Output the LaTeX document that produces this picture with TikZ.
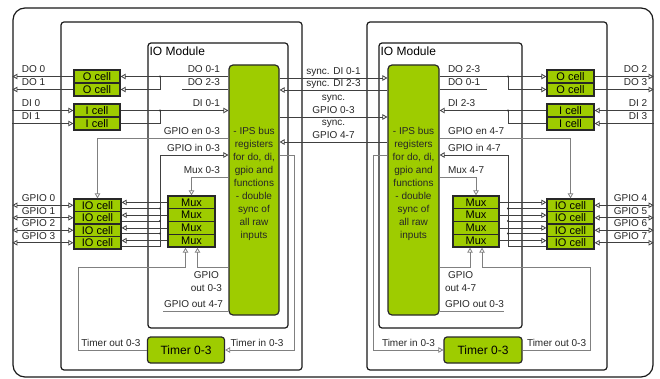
\documentclass[tikz,border=0pt]{standalone}
\usepackage{fontspec}
\setmainfont{Liberation Sans}
\usetikzlibrary{arrows.meta}

\definecolor{cellgreen}{RGB}{158,204,0}
\definecolor{edgedark}{RGB}{40,40,40}

\tikzset{
  ipstip/.tip={Triangle[open,length=5pt,width=5.5pt]},
  frame/.style={draw=black!90, line width=1.2pt, rounded corners=3pt, inner sep=0pt},
  cellbox/.style={draw=edgedark, fill=cellgreen, line width=1.3pt, inner sep=0pt,
    font=\fontsize{11}{12}\selectfont},
  ocell/.style={cellbox, minimum width=46pt, minimum height=13pt},
  iocell/.style={cellbox, minimum width=47pt, minimum height=12.5pt},
  muxbox/.style={cellbox, minimum width=47pt, minimum height=12.75pt},
  ipsbox/.style={draw=edgedark, fill=cellgreen, line width=1.2pt, rounded corners=4pt,
    minimum width=50pt, minimum height=250pt, inner sep=0pt},
  timerbox/.style={draw=edgedark, fill=cellgreen, line width=1.2pt, rounded corners=3pt,
    minimum height=26pt, inner sep=0pt, font=\fontsize{12}{14}\selectfont},
  lbl/.style={inner sep=0pt, text=black!85, font=\fontsize{10}{13}\selectfont},
  title/.style={inner sep=0pt, font=\fontsize{12}{14}\selectfont},
  sig/.style={draw=black!75, line width=0.8pt},
  ctl/.style={draw=black!50, line width=0.8pt},
  jdot/.style={fill=black!80},
}

\begin{document}
\begin{tikzpicture}[x=1pt, y=-1pt]
\useasboundingbox (0,0) rectangle (660,379);

% frames
\node[frame, rounded corners=12pt, minimum width=640pt, minimum height=369pt] (sys) at (333,192.5) {};
\node[frame, minimum width=241pt, minimum height=348pt] (modL) at (181.5,196) {};
\node[frame, minimum width=240pt, minimum height=348pt] (modR) at (487,196) {};
\node[frame, minimum width=140pt, minimum height=285pt] (iomL) at (218,185.5) {};
\node[frame, minimum width=143pt, minimum height=285pt] (iomR) at (450.5,185.5) {};
\node[title, anchor=base west] (iomLtitle) at ([xshift=2pt,yshift=-13pt]iomL.north west) {IO Module};
\node[title, anchor=base west] (iomRtitle) at ([xshift=2pt,yshift=-13pt]iomR.north west) {IO Module};

% bus registers
\node[ipsbox] (ipsL) at (254,190) {};
\node[ipsbox, minimum width=51pt] (ipsR) at (413.5,190) {};
\node[lbl, align=center] (ipsLtext) at (254,183.5) {- IPS bus\\registers\\for do, di,\\gpio and\\functions\\- double\\sync of\\all raw\\inputs};
\node[lbl, align=center] (ipsRtext) at (413.5,183.5) {- IPS bus\\registers\\for do, di,\\gpio and\\functions\\- double\\sync of\\all raw\\inputs};

% timers
\node[timerbox, minimum width=77pt] (tmL) at (186,350) {Timer 0-3};
\node[timerbox, minimum width=78pt] (tmR) at (483,350) {Timer 0-3};

% left cells
\node[ocell] (ocA) at (97,76.5) {O cell};
\node[ocell] (ocB) at (97,89.5) {O cell};
\node[ocell] (icA) at (97,110.5) {I cell};
\node[ocell] (icB) at (97,123.5) {I cell};
\node[iocell] (ioA) at (97.5,205.25) {IO cell};
\node[iocell] (ioB) at (97.5,217.75) {IO cell};
\node[iocell] (ioC) at (97.5,230.25) {IO cell};
\node[iocell] (ioD) at (97.5,242.75) {IO cell};
\node[muxbox] (mxA) at (191.5,202.4) {Mux};
\node[muxbox] (mxB) at (191.5,215.15) {Mux};
\node[muxbox] (mxC) at (191.5,227.9) {Mux};
\node[muxbox] (mxD) at (191.5,240.65) {Mux};

% right cells
\node[ocell, minimum width=47pt] (ocC) at (570.5,76.5) {O cell};
\node[ocell, minimum width=47pt] (ocD) at (570.5,89.5) {O cell};
\node[ocell, minimum width=47pt] (icC) at (570.5,110.5) {I cell};
\node[ocell, minimum width=47pt] (icD) at (570.5,123.5) {I cell};
\node[iocell] (ioE) at (570.5,205.25) {IO cell};
\node[iocell] (ioF) at (570.5,217.75) {IO cell};
\node[iocell] (ioG) at (570.5,230.25) {IO cell};
\node[iocell] (ioH) at (570.5,242.75) {IO cell};
\node[muxbox, minimum width=46pt] (mxE) at (476,202.4) {Mux};
\node[muxbox, minimum width=46pt] (mxF) at (476,215.15) {Mux};
\node[muxbox, minimum width=46pt] (mxG) at (476,227.9) {Mux};
\node[muxbox, minimum width=46pt] (mxH) at (476,240.65) {Mux};

% bend points and stub ends
\coordinate (busL) at (160,0);
\coordinate (busR) at (508,0);
\coordinate (doStubL) at (182,0);
\coordinate (doStubR) at (487,0);
\coordinate (tinL) at (294,0);
\coordinate (tinR) at (373,0);
\coordinate (toutL) at (78,267);
\coordinate (toutR) at (590,267);
\coordinate (gpoStubL) at (163,311);
\coordinate (gpoStubR) at (504,311);

% left pins
\draw[sig,-ipstip] (ocA.west) -- (ocA.west -| sys.west) node[lbl, anchor=base west, xshift=9pt, yshift=3.5pt] {DO 0};
\draw[sig,-ipstip] (ocB.west) -- (ocB.west -| sys.west) node[lbl, anchor=base west, xshift=9pt, yshift=3.5pt] {DO 1};
\draw[sig,-ipstip] (icA.west -| sys.west) node[lbl, anchor=base west, xshift=9pt, yshift=3.5pt] {DI 0} -- (icA.west);
\draw[sig,-ipstip] (icB.west -| sys.west) node[lbl, anchor=base west, xshift=9pt, yshift=3.5pt] {DI 1} -- (icB.west);
\draw[sig,ipstip-ipstip] (ioA.west -| sys.west) node[lbl, anchor=base west, xshift=9pt, yshift=3.5pt] {GPIO 0} -- (ioA.west);
\draw[sig,ipstip-ipstip] (ioB.west -| sys.west) node[lbl, anchor=base west, xshift=9pt, yshift=3.5pt] {GPIO 1} -- (ioB.west);
\draw[sig,ipstip-ipstip] (ioC.west -| sys.west) node[lbl, anchor=base west, xshift=9pt, yshift=3.5pt] {GPIO 2} -- (ioC.west);
\draw[sig,ipstip-ipstip] (ioD.west -| sys.west) node[lbl, anchor=base west, xshift=9pt, yshift=3.5pt] {GPIO 3} -- (ioD.west);

% right pins
\draw[sig,-ipstip] (ocC.east) -- (ocC.east -| sys.east) node[lbl, anchor=base east, xshift=-6pt, yshift=3.5pt] {DO 2};
\draw[sig,-ipstip] (ocD.east) -- (ocD.east -| sys.east) node[lbl, anchor=base east, xshift=-6pt, yshift=3.5pt] {DO 3};
\draw[sig,-ipstip] (icC.east -| sys.east) node[lbl, anchor=base east, xshift=-6pt, yshift=3.5pt] {DI 2} -- (icC.east);
\draw[sig,-ipstip] (icD.east -| sys.east) node[lbl, anchor=base east, xshift=-6pt, yshift=3.5pt] {DI 3} -- (icD.east);
\draw[sig,ipstip-ipstip] (ioE.east -| sys.east) node[lbl, anchor=base east, xshift=-6pt, yshift=3.5pt] {GPIO 4} -- (ioE.east);
\draw[sig,ipstip-ipstip] (ioF.east -| sys.east) node[lbl, anchor=base east, xshift=-6pt, yshift=3.5pt] {GPIO 5} -- (ioF.east);
\draw[sig,ipstip-ipstip] (ioG.east -| sys.east) node[lbl, anchor=base east, xshift=-6pt, yshift=3.5pt] {GPIO 6} -- (ioG.east);
\draw[sig,ipstip-ipstip] (ioH.east -| sys.east) node[lbl, anchor=base east, xshift=-6pt, yshift=3.5pt] {GPIO 7} -- (ioH.east);

% left module buses
\draw[sig,ipstip-] (ocA.east) -- (ocA.east -| ipsL.west) node[lbl, anchor=base east, xshift=-8pt, yshift=3.5pt] {DO 0-1};
\draw[sig,-ipstip] (busL |- ocA.east) |- (ocB.east);
\fill[jdot] (busL |- ocA.east) circle (1.1pt);
\draw[sig] (ocB.east -| ipsL.west) node[lbl, anchor=base east, xshift=-8pt, yshift=3.5pt] {DO 2-3} -- (ocB.east -| doStubL);
\draw[sig,-ipstip] (icA.east) -- (icA.east -| ipsL.west) node[lbl, anchor=base east, xshift=-8pt, yshift=3.5pt] {DI 0-1};
\draw[sig] (icB.east) -| (busL |- icA.east);
\fill[jdot] (busL |- icA.east) circle (1.1pt);
\draw[ctl,-ipstip] (ipsL.west |- 0,138) node[lbl, anchor=base east, xshift=-8pt, yshift=3.5pt] {GPIO en 0-3} -| (ioA.north);
\draw[sig,-ipstip] ([yshift=-3.25pt]ioD.east) -| (busL |- 0,155) -- (ipsL.west |- 0,155) node[lbl, anchor=base east, xshift=-8pt, yshift=3.5pt] {GPIO in 0-3};
\draw[sig] ([yshift=-3.25pt]ioA.east) -- ([yshift=-3.25pt]ioA.east -| busL);
\draw[sig] ([yshift=-3.25pt]ioB.east) -- ([yshift=-3.25pt]ioB.east -| busL);
\draw[sig] ([yshift=-3.25pt]ioC.east) -- ([yshift=-3.25pt]ioC.east -| busL);
\fill[jdot] ([yshift=-3.25pt]ioA.east -| busL) circle (1.1pt);
\fill[jdot] ([yshift=-3.25pt]ioB.east -| busL) circle (1.1pt);
\fill[jdot] ([yshift=-3.25pt]ioC.east -| busL) circle (1.1pt);
\draw[ctl,-ipstip] (ipsL.west |- 0,177) node[lbl, anchor=base east, xshift=-8pt, yshift=3.5pt] {Mux 0-3} -| (mxA.north);
\draw[sig,-ipstip] (mxA.west) -- (mxA.west -| ioA.east);
\draw[sig,-ipstip] (mxB.west) -- (mxB.west -| ioB.east);
\draw[sig,-ipstip] (mxC.west) -- (mxC.west -| ioC.east);
\draw[sig,-ipstip] (mxD.west) -- (mxD.west -| ioD.east);
\draw[ctl,-ipstip] (ipsL.west |- 0,267) node[lbl, align=center, anchor=north east, xshift=-6pt, yshift=-4pt] {GPIO\\out 0-3} -| ([xshift=6pt]mxD.south);
\draw[ctl] (gpoStubL -| ipsL.west) node[lbl, anchor=base east, xshift=-5pt, yshift=3.5pt] {GPIO out 4-7} -- (gpoStubL);
\draw[ctl,-ipstip] (tmL.west) node[lbl, anchor=base east, xshift=-6pt, yshift=3.5pt] {Timer out 0-3} -| (toutL) -| ([xshift=-6pt]mxD.south);
\draw[ctl,-ipstip] (ipsL.east |- 0,155) -| (tinL |- tmL.east) -- (tmL.east) node[lbl, anchor=base west, xshift=5pt, yshift=3.5pt] {Timer in 0-3};

% right module buses
\draw[sig,-ipstip] (ocC.west -| ipsR.east) node[lbl, anchor=base west, xshift=8pt, yshift=3.5pt] {DO 2-3} -- (ocC.west);
\draw[sig,-ipstip] (busR |- ocC.west) |- (ocD.west);
\fill[jdot] (busR |- ocC.west) circle (1.1pt);
\draw[sig] (ocD.west -| ipsR.east) node[lbl, anchor=base west, xshift=8pt, yshift=3.5pt] {DO 0-1} -- (ocD.west -| doStubR);
\draw[sig,-ipstip] (icC.west) -- (icC.west -| ipsR.east) node[lbl, anchor=base west, xshift=8pt, yshift=3.5pt] {DI 2-3};
\draw[sig] (icD.west) -| (busR |- icC.west);
\fill[jdot] (busR |- icC.west) circle (1.1pt);
\draw[ctl,-ipstip] (ipsR.east |- 0,138) node[lbl, anchor=base west, xshift=8pt, yshift=3.5pt] {GPIO en 4-7} -| (ioE.north);
\draw[sig,-ipstip] ([yshift=-3.25pt]ioH.west) -| (busR |- 0,155) -- (ipsR.east |- 0,155) node[lbl, anchor=base west, xshift=8pt, yshift=3.5pt] {GPIO in 4-7};
\draw[sig] ([yshift=-3.25pt]ioE.west) -- ([yshift=-3.25pt]ioE.west -| busR);
\draw[sig] ([yshift=-3.25pt]ioF.west) -- ([yshift=-3.25pt]ioF.west -| busR);
\draw[sig] ([yshift=-3.25pt]ioG.west) -- ([yshift=-3.25pt]ioG.west -| busR);
\fill[jdot] ([yshift=-3.25pt]ioE.west -| busR) circle (1.1pt);
\fill[jdot] ([yshift=-3.25pt]ioF.west -| busR) circle (1.1pt);
\fill[jdot] ([yshift=-3.25pt]ioG.west -| busR) circle (1.1pt);
\draw[ctl,-ipstip] (ipsR.east |- 0,177) node[lbl, anchor=base west, xshift=8pt, yshift=3.5pt] {Mux 4-7} -| (mxE.north);
\draw[sig,-ipstip] (mxE.east) -- (mxE.east -| ioE.west);
\draw[sig,-ipstip] (mxF.east) -- (mxF.east -| ioF.west);
\draw[sig,-ipstip] (mxG.east) -- (mxG.east -| ioG.west);
\draw[sig,-ipstip] (mxH.east) -- (mxH.east -| ioH.west);
\draw[ctl,-ipstip] (ipsR.east |- 0,267) node[lbl, align=center, anchor=north west, xshift=5pt, yshift=-4pt] {GPIO\\out 4-7} -| ([xshift=-6pt]mxH.south);
\draw[ctl] (gpoStubR -| ipsR.east) node[lbl, anchor=base west, xshift=5pt, yshift=3.5pt] {GPIO out 0-3} -- (gpoStubR);
\draw[ctl,-ipstip] (tmR.east) node[lbl, anchor=base west, xshift=4pt, yshift=3.5pt] {Timer out 0-3} -| (toutR) -| ([xshift=6pt]mxH.south);
\draw[ctl,-ipstip] (ipsR.west |- 0,155) -| (tinR |- tmR.west) -- (tmR.west) node[lbl, anchor=base east, xshift=-8pt, yshift=3.5pt] {Timer in 0-3};

% sync between modules
\draw[sig,-ipstip] (ipsL.east |- 0,78) -- node[lbl, anchor=base, yshift=3.5pt] {sync. DI 0-1} (ipsR.west |- 0,78);
\draw[sig,ipstip-] (ipsL.east |- 0,90) -- node[lbl, anchor=base, yshift=3.5pt] {sync. DI 2-3} (ipsR.west |- 0,90);
\draw[sig,-ipstip] (ipsL.east |- 0,117) -- node[lbl, align=center, anchor=south, yshift=3.5pt] {sync.\\GPIO 0-3} (ipsR.west |- 0,117);
\draw[sig,ipstip-] (ipsL.east |- 0,142) -- node[lbl, align=center, anchor=south, yshift=3.5pt] {sync.\\GPIO 4-7} (ipsR.west |- 0,142);
\end{tikzpicture}
\end{document}
